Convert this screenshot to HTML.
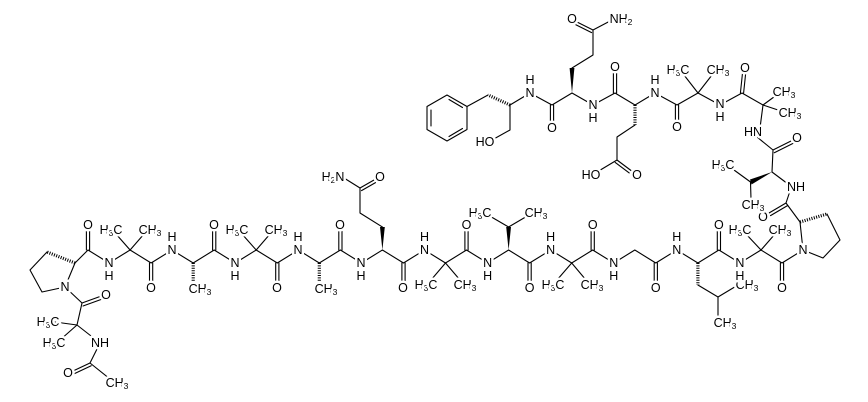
<!DOCTYPE html>
<html><head><meta charset="utf-8"><style>
html,body{margin:0;padding:0;background:#fff;}
svg{display:block;}
text{font-family:"Liberation Sans",Arial,sans-serif;font-size:12.5px;fill:#000;text-anchor:middle;dominant-baseline:central;paint-order:stroke;stroke:#fff;stroke-width:5px;stroke-linejoin:round;}
tspan.s{font-size:8.5px;}
.b{stroke:#000;stroke-width:1.1;fill:none;stroke-linejoin:round;stroke-linecap:round;}
.h{stroke:#000;stroke-width:3.2;fill:none;stroke-dasharray:1 1.4;}
</style></head><body>
<svg width="868" height="402" viewBox="0 0 868 402" xmlns="http://www.w3.org/2000/svg">
<g class="b">
<polyline points="75,263 88,250 109,263 130.1,250 151.1,263 172.1,250 193.2,263 214.2,250 235.2,263 256.2,250 277.3,263 298.3,250 319.3,263 340.4,250 361.4,263 382.4,250 403.5,263 424.5,250 445.5,263 466.5,250 487.6,263 508.6,250 529.6,263 550.7,250 571.7,263 592.7,250 613.8,263 634.8,250 655.8,263 676.8,250 697.9,263 718.9,250 739.9,263 761,250 782,263 803,250"/>
<polyline points="75,263 65,287 42,292 30,270 47,252"/>
<polyline points="65,287 82,303 77,325 100,343 90,363 115,383"/>
<line x1="82" y1="303" x2="100" y2="296.5"/><line x1="83" y1="306" x2="101" y2="299.5"/>
<line x1="77" y1="325" x2="55" y2="322"/><line x1="77" y1="325" x2="60" y2="340"/>
<line x1="90" y1="363" x2="73" y2="371"/><line x1="91.2" y1="365.7" x2="74.2" y2="373.7"/>
<line x1="86.4" y1="250" x2="86.4" y2="231"/><line x1="89.6" y1="250" x2="89.6" y2="231"/>
<line x1="149.5" y1="263" x2="149.5" y2="282"/><line x1="152.7" y1="263" x2="152.7" y2="282"/>
<line x1="212.6" y1="250" x2="212.6" y2="231"/><line x1="215.8" y1="250" x2="215.8" y2="231"/>
<line x1="275.7" y1="263" x2="275.7" y2="282"/><line x1="278.9" y1="263" x2="278.9" y2="282"/>
<line x1="338.8" y1="250" x2="338.8" y2="231"/><line x1="342" y1="250" x2="342" y2="231"/>
<line x1="401.9" y1="263" x2="401.9" y2="282"/><line x1="405.1" y1="263" x2="405.1" y2="282"/>
<line x1="464.9" y1="250" x2="464.9" y2="231"/><line x1="468.1" y1="250" x2="468.1" y2="231"/>
<line x1="528" y1="263" x2="528" y2="282"/><line x1="531.2" y1="263" x2="531.2" y2="282"/>
<line x1="591.1" y1="250" x2="591.1" y2="231"/><line x1="594.3" y1="250" x2="594.3" y2="231"/>
<line x1="654.2" y1="263" x2="654.2" y2="282"/><line x1="657.4" y1="263" x2="657.4" y2="282"/>
<line x1="717.3" y1="250" x2="717.3" y2="231"/><line x1="720.5" y1="250" x2="720.5" y2="231"/>
<line x1="780.4" y1="263" x2="780.4" y2="282"/><line x1="783.6" y1="263" x2="783.6" y2="282"/>
<line x1="130.1" y1="250" x2="116" y2="234"/><line x1="130.1" y1="250" x2="144" y2="234"/>
<line x1="256.2" y1="250" x2="242" y2="234"/><line x1="256.2" y1="250" x2="270" y2="234"/>
<line x1="445.5" y1="263" x2="431" y2="280"/><line x1="445.5" y1="263" x2="460" y2="280"/>
<line x1="571.7" y1="263" x2="557" y2="280"/><line x1="571.7" y1="263" x2="586" y2="280"/>
<line x1="761" y1="250" x2="746" y2="234"/><line x1="761" y1="250" x2="775" y2="234"/>
<polyline points="382.4,227 360,213 360,188 344,178"/>
<line x1="360" y1="188" x2="374" y2="180"/><line x1="361.5" y1="190.6" x2="375.5" y2="182.6"/>
<line x1="508.6" y1="227" x2="488" y2="215"/><line x1="508.6" y1="227" x2="529" y2="215"/>
<polyline points="697.9,285 718,297 738,285"/><line x1="718" y1="297" x2="718" y2="318"/>
<polyline points="803,250 800,222"/><polyline points="827,214 840,240 823,258 803,250"/>
<polyline points="488,95 467,106.5"/>
<polyline points="510,105 530,93 552,105 572,93 593,105 615,93 635,105 655,93 677,105 698,93 720,105 742,93 763,105 760,128"/>
<polyline points="757,137 773,150 772,172 788,184"/>
<polyline points="790,191 786,203 800,222"/>
<line x1="750.5" y1="182" x2="734" y2="170"/><line x1="750.5" y1="182" x2="751" y2="199"/>
<line x1="786" y1="203" x2="769" y2="213"/><line x1="787.5" y1="205.6" x2="770.5" y2="215.6"/>
<line x1="773" y1="150" x2="792" y2="140.5"/><line x1="774.3" y1="152.7" x2="793.3" y2="143.2"/>
<line x1="763" y1="105" x2="778" y2="94"/><line x1="763" y1="105" x2="781" y2="111"/>
<line x1="740.4" y1="93" x2="742.4" y2="74"/><line x1="743.6" y1="93" x2="745.6" y2="74"/>
<line x1="698" y1="93" x2="684" y2="75"/><line x1="698" y1="93" x2="712" y2="75"/>
<line x1="675.4" y1="105" x2="675.4" y2="121"/><line x1="678.6" y1="105" x2="678.6" y2="121"/>
<line x1="613.4" y1="93" x2="613.4" y2="73"/><line x1="616.6" y1="93" x2="616.6" y2="73"/>
<line x1="550.4" y1="105" x2="550.4" y2="122"/><line x1="553.6" y1="105" x2="553.6" y2="122"/>
<polyline points="635,125 617,137 617,160 597,172"/>
<line x1="617" y1="160" x2="631" y2="170.5"/><line x1="615.2" y1="162.4" x2="629.2" y2="172.9"/>
<polyline points="572,68 593,55 593,30 612,20"/>
<line x1="593" y1="30" x2="577" y2="22"/><line x1="591.6" y1="32.6" x2="575.6" y2="24.6"/>
<polyline points="510,105 510,130 492,140"/>
<polygon points="447,95 467,106.5 467,129.5 447,141 427,129.5 427,106.5"/>
<line x1="449" y1="99.5" x2="462.5" y2="107.5"/>
<line x1="462.5" y1="128.5" x2="449" y2="136.5"/>
<line x1="431" y1="110" x2="431" y2="126"/>
</g>
<g fill="#000">
<polygon points="382.4,250 380,227 384.8,227"/>
<polygon points="508.6,250 506.2,227 511,227"/>
<polygon points="572,93 569.6,68 574.4,68"/>
<polygon points="772,172 750,179.5 751.5,184.5"/>
</g>
<g class="h">
<line x1="75" y1="263" x2="47" y2="252"/>
<line x1="193.2" y1="263" x2="193.2" y2="282"/>
<line x1="319.3" y1="263" x2="319.3" y2="282"/>
<line x1="697.9" y1="263" x2="697.9" y2="285"/>
<line x1="800" y1="222" x2="827" y2="214"/>
<line x1="635" y1="105" x2="635" y2="125"/>
<line x1="510" y1="105" x2="488" y2="95"/>
</g>
<g>
<text x="65" y="287">N</text>
<text x="106" y="295">O</text>
<text x="48" y="322">H<tspan class="s" dy="3">3</tspan><tspan dy="-3">C</tspan></text>
<text x="54" y="343">H<tspan class="s" dy="3">3</tspan><tspan dy="-3">C</tspan></text>
<text x="100" y="343">NH</text>
<text x="68" y="373">O</text>
<text x="117" y="383">CH<tspan class="s" dy="3">3</tspan></text>
<text x="88" y="225">O</text>
<text x="109" y="263">N</text><text x="109" y="276">H</text>
<text x="111" y="230">H<tspan class="s" dy="3">3</tspan><tspan dy="-3">C</tspan></text>
<text x="150" y="230">CH<tspan class="s" dy="3">3</tspan></text>
<text x="151" y="288">O</text>
<text x="172" y="250">N</text><text x="172" y="237">H</text>
<text x="200" y="289">CH<tspan class="s" dy="3">3</tspan></text>
<text x="214" y="225">O</text>
<text x="235" y="263">N</text><text x="235" y="276">H</text>
<text x="237" y="230">H<tspan class="s" dy="3">3</tspan><tspan dy="-3">C</tspan></text>
<text x="276" y="230">CH<tspan class="s" dy="3">3</tspan></text>
<text x="277" y="288">O</text>
<text x="298" y="250">N</text><text x="298" y="237">H</text>
<text x="326" y="289">CH<tspan class="s" dy="3">3</tspan></text>
<text x="340" y="225">O</text>
<text x="361" y="263">N</text><text x="361" y="276">H</text>
<text x="333" y="177">H<tspan class="s" dy="3">2</tspan><tspan dy="-3">N</tspan></text>
<text x="380" y="177">O</text>
<text x="403" y="288">O</text>
<text x="424.5" y="250">N</text><text x="424.5" y="237">H</text>
<text x="426" y="285">H<tspan class="s" dy="3">3</tspan><tspan dy="-3">C</tspan></text>
<text x="465" y="285">CH<tspan class="s" dy="3">3</tspan></text>
<text x="466.5" y="225">O</text>
<text x="487.6" y="263">N</text><text x="487.6" y="276">H</text>
<text x="480" y="213">H<tspan class="s" dy="3">3</tspan><tspan dy="-3">C</tspan></text>
<text x="536" y="213">CH<tspan class="s" dy="3">3</tspan></text>
<text x="529.6" y="288">O</text>
<text x="550.7" y="250">N</text><text x="550.7" y="237">H</text>
<text x="553" y="285">H<tspan class="s" dy="3">3</tspan><tspan dy="-3">C</tspan></text>
<text x="592" y="285">CH<tspan class="s" dy="3">3</tspan></text>
<text x="592.7" y="225">O</text>
<text x="613.8" y="263">N</text><text x="613.8" y="276">H</text>
<text x="655.8" y="288">O</text>
<text x="676.8" y="250">N</text><text x="676.8" y="237">H</text>
<text x="747" y="285">CH<tspan class="s" dy="3">3</tspan></text>
<text x="725" y="323">CH<tspan class="s" dy="3">3</tspan></text>
<text x="718.9" y="225">O</text>
<text x="739.9" y="263">N</text><text x="739.9" y="276">H</text>
<text x="740" y="230">H<tspan class="s" dy="3">3</tspan><tspan dy="-3">C</tspan></text>
<text x="780" y="230">CH<tspan class="s" dy="3">3</tspan></text>
<text x="782" y="288">O</text>
<text x="803" y="250">N</text>
<text x="763" y="217">O</text>
<text x="796" y="187">NH</text>
<text x="723" y="165">H<tspan class="s" dy="3">3</tspan><tspan dy="-3">C</tspan></text>
<text x="753" y="205">CH<tspan class="s" dy="3">3</tspan></text>
<text x="797" y="138">O</text>
<text x="753" y="132">HN</text>
<text x="784" y="92">CH<tspan class="s" dy="3">3</tspan></text>
<text x="790" y="113">CH<tspan class="s" dy="3">3</tspan></text>
<text x="745" y="68">O</text>
<text x="720" y="104">N</text><text x="720" y="117">H</text>
<text x="678" y="70">H<tspan class="s" dy="3">3</tspan><tspan dy="-3">C</tspan></text>
<text x="718" y="70">CH<tspan class="s" dy="3">3</tspan></text>
<text x="677" y="127">O</text>
<text x="655" y="93">N</text><text x="655" y="80">H</text>
<text x="615" y="67">O</text>
<text x="591" y="175">HO</text>
<text x="637" y="175">O</text>
<text x="593" y="105">N</text><text x="593" y="118">H</text>
<text x="572" y="19">O</text>
<text x="621" y="19">NH<tspan class="s" dy="3">2</tspan></text>
<text x="552" y="128">O</text>
<text x="530" y="93">N</text><text x="530" y="80">H</text>
<text x="485" y="142">HO</text>
</g>
</svg>
</body></html>
